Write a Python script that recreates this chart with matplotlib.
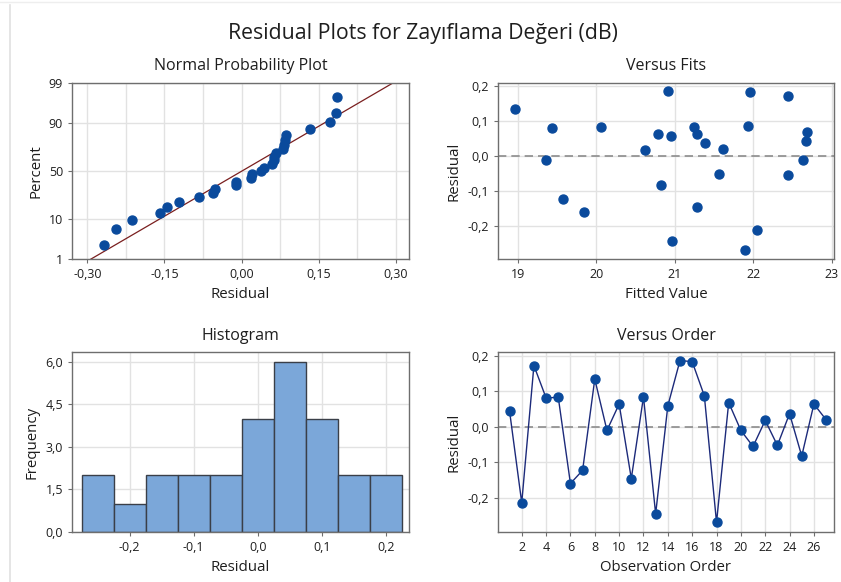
import numpy as np
import matplotlib
matplotlib.use("Agg")
import matplotlib.pyplot as plt
from matplotlib.lines import Line2D
from matplotlib.ticker import FixedLocator, MultipleLocator, FuncFormatter
from statistics import NormalDist

plt.rcParams['font.family'] = ['Open Sans', 'DejaVu Sans']

# residuals in observation order
residuals = [0.044, -0.213, 0.172, 0.081, 0.083, -0.159, -0.122, 0.134, -0.010,
             0.064, -0.145, 0.084, -0.244, 0.059, 0.186, 0.183, 0.087, -0.268,
             0.068, -0.010, -0.055, 0.018, -0.052, 0.037, -0.082, 0.064, 0.020]
# fitted values for the same observations
fitted = [22.67, 22.05, 22.45, 19.44, 21.25, 19.85, 19.58, 18.97, 19.36,
          20.79, 21.28, 20.06, 20.97, 20.95, 20.92, 21.96, 21.94, 21.90,
          22.68, 22.63, 22.45, 20.62, 21.56, 21.39, 20.83, 21.28, 21.61]
order = list(range(1, 28))

prob_ticks = [1, 10, 50, 90, 99]
hist_edges = [-0.275, -0.225, -0.175, -0.125, -0.075, -0.025, 0.025, 0.075, 0.125, 0.175, 0.225]

PT = '#0a4a9c'
GRID = '#e2e2e2'
SPINE = '#6e6e6e'
TXT = '#1e1e1e'

nd = NormalDist()


def comma(v, pos, dec=1):
    s = f"{v:.{dec}f}".replace('.', ',')
    if s.startswith('-0,') and float(s.replace(',', '.')) == 0:
        s = s[1:]
    return s


def style(ax, title, xlabel, ylabel):
    ax.set_title(title, fontsize=11.5, color=TXT, pad=9)
    ax.set_xlabel(xlabel, fontsize=10.8, color=TXT, labelpad=4)
    ax.set_ylabel(ylabel, fontsize=10.8, color=TXT, labelpad=4)
    for s in ax.spines.values():
        s.set_color(SPINE)
        s.set_linewidth(1.0)
    ax.tick_params(labelsize=9, colors=TXT, length=3, width=0.8, color=SPINE)
    ax.grid(True, which='both', color=GRID, linewidth=1.0)
    ax.set_axisbelow(True)


fig = plt.figure(figsize=(8.41, 5.82), dpi=100)
W, H = 841, 582


def add_ax(l, t, r, b):
    return fig.add_axes([l / W, 1 - b / H, (r - l) / W, (b - t) / H])


fig.text(423 / W, 1 - 33 / H, 'Residual Plots for Zayıflama Değeri (dB)',
         ha='center', va='center', fontsize=15.3, color=TXT)
fig.add_artist(Line2D([10 / W, 10 / W], [0, 1 - 5 / H], color='#e0e0e0', lw=1.2))
fig.add_artist(Line2D([0, 1], [1 - 2 / H, 1 - 2 / H], color='#eeeeee', lw=1.0))

# Normal probability plot
ax1 = add_ax(72, 83, 409, 259)
r = np.array(residuals)
n = len(r)
srt = np.sort(r)
pct = [(i + 1 - 0.3) / (n + 0.4) for i in range(n)]
z = [nd.inv_cdf(p) for p in pct]
mu, sd = r.mean(), r.std(ddof=1)
zlim = (nd.inv_cdf(0.01), nd.inv_cdf(0.99))
xl = np.array([-0.33, 0.326])
ax1.plot(xl, (xl - mu) / sd, color='#7a1f1f', lw=0.9, zorder=2)
ax1.scatter(srt, z, s=42, color=PT, zorder=3)
ax1.set_xlim(xl)
ax1.set_ylim(zlim)
ax1.yaxis.set_major_locator(FixedLocator([nd.inv_cdf(p / 100) for p in prob_ticks]))
ax1.yaxis.set_major_formatter(FuncFormatter(lambda v, pos: str(prob_ticks[pos]) if pos is not None and pos < len(prob_ticks) else ''))
ax1.xaxis.set_major_locator(MultipleLocator(0.15))
ax1.xaxis.set_minor_locator(MultipleLocator(0.075))
ax1.xaxis.set_major_formatter(FuncFormatter(lambda v, p: comma(v, p, 2)))
ax1.tick_params(axis='x', which='minor', length=0)
style(ax1, 'Normal Probability Plot', 'Residual', 'Percent')

# Versus fits
ax2 = add_ax(498, 83, 834, 259)
ax2.axhline(0, color='#8c8c8c', lw=1.2, ls=(0, (5, 3)), zorder=2)
ax2.scatter(fitted, residuals, s=42, color=PT, zorder=3)
ax2.set_xlim(18.75, 23.03)
ax2.set_ylim(-0.295, 0.21)
ax2.xaxis.set_major_locator(MultipleLocator(1))
ax2.yaxis.set_major_locator(MultipleLocator(0.1))
ax2.yaxis.set_major_formatter(FuncFormatter(comma))
style(ax2, 'Versus Fits', 'Fitted Value', 'Residual')

# Histogram
ax3 = add_ax(72, 352, 409, 532)
ax3.hist(residuals, bins=hist_edges, color='#7ba7d9', edgecolor='#3a3f48', linewidth=1.0, zorder=2)
ax3.set_xlim(-0.29, 0.236)
ax3.set_ylim(0, 6.35)
ax3.xaxis.set_major_locator(MultipleLocator(0.1))
ax3.yaxis.set_major_locator(MultipleLocator(1.5))
ax3.xaxis.set_major_formatter(FuncFormatter(comma))
ax3.yaxis.set_major_formatter(FuncFormatter(comma))
style(ax3, 'Histogram', 'Residual', 'Frequency')
ax3.set_xticks([-0.2, -0.1, 0.0, 0.1, 0.2])

# Versus order
ax4 = add_ax(498, 352, 834, 532)
ax4.axhline(0, color='#8c8c8c', lw=1.2, ls=(0, (5, 3)), zorder=2)
ax4.plot(order, residuals, color='#1c2a7a', lw=1.0, zorder=3)
ax4.scatter(order, residuals, s=42, color=PT, zorder=4)
ax4.set_xlim(0.05, 27.65)
ax4.set_ylim(-0.295, 0.21)
ax4.xaxis.set_major_locator(FixedLocator(list(range(2, 28, 2))))
ax4.yaxis.set_major_locator(MultipleLocator(0.1))
ax4.yaxis.set_major_formatter(FuncFormatter(comma))
style(ax4, 'Versus Order', 'Observation Order', 'Residual')

fig.savefig('out.png', dpi=100)
